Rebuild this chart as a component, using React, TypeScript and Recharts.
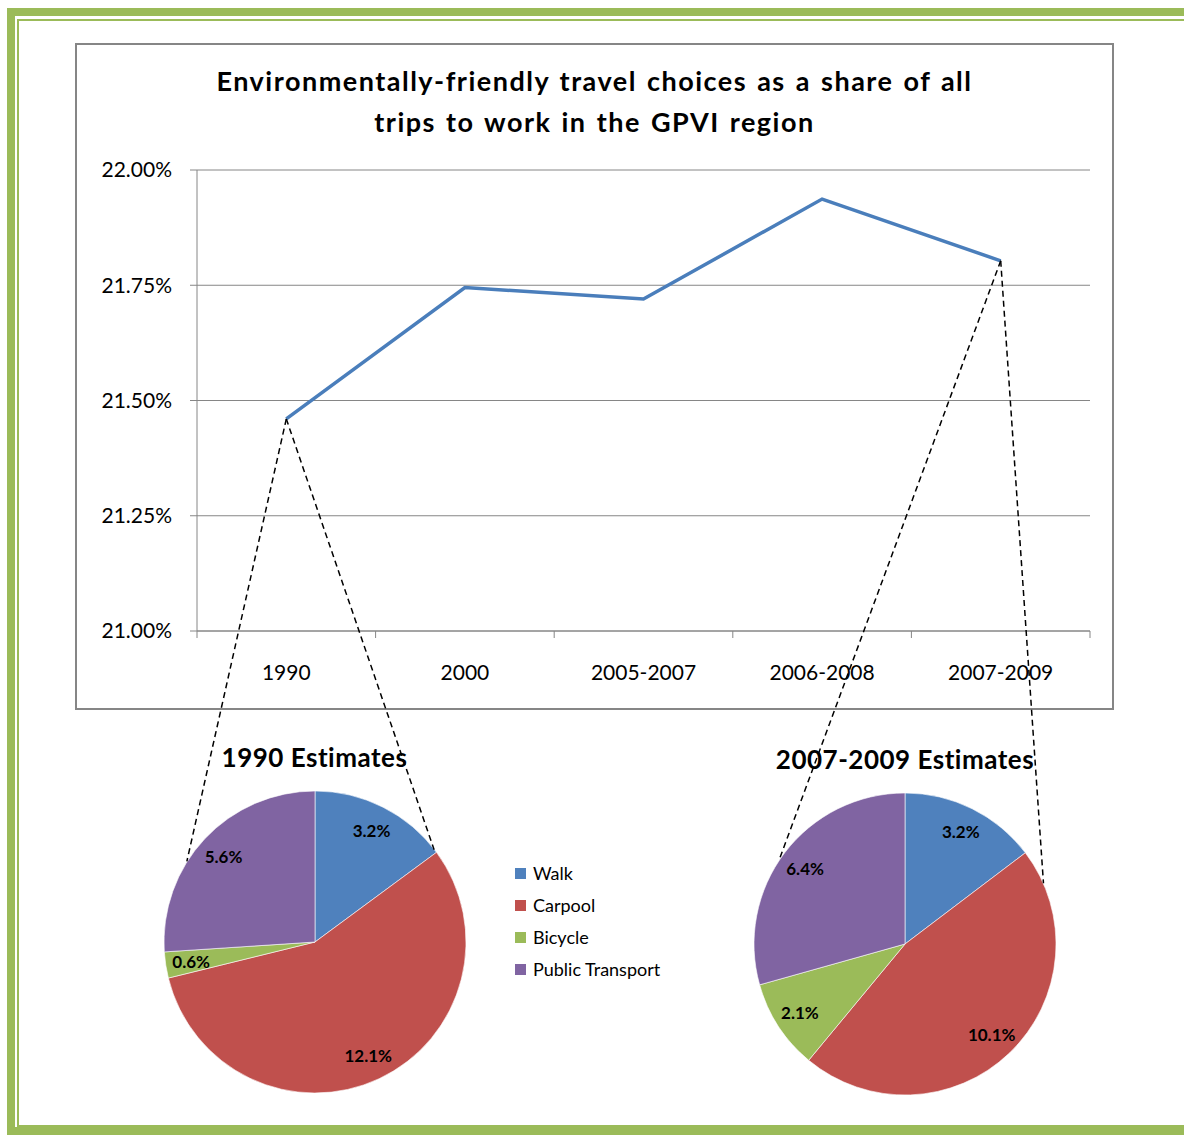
import { CartesianGrid, Cell, Line, LineChart, Pie, PieChart, XAxis, YAxis } from 'recharts'

const YEARS = ['1990', '2000', '2005-2007', '2006-2008', '2007-2009']
const ECO_SHARE = [21.46, 21.745, 21.72, 21.937, 21.803]
const Y_TICKS = [21, 21.25, 21.5, 21.75, 22]

const MODES = ['Walk', 'Carpool', 'Bicycle', 'Public Transport']
const MODE_COLORS = ['#4F81BD', '#C0504D', '#9BBB59', '#8064A2']
const SHARE_1990 = [3.2, 12.1, 0.6, 5.6]
const SHARE_2007_2009 = [3.2, 10.1, 2.1, 6.4]

const FONT = 'Lato, "Open Sans", sans-serif'
const GRAY = '#868686'

// line chart geometry (page px)
const BOX = { left: 75, top: 43, width: 1039, height: 667 }
const PLOT = { left: 197, top: 170, width: 893, height: 461 }
const BAND = PLOT.width / YEARS.length
const Y_MIN = 21
const Y_MAX = 22

// pies
const PIE_R = 151
const PIES = [
  { title: '1990 Estimates', values: SHARE_1990, cx: 314.5, cy: 942, yearIdx: 0, titleY: 757, links: [147.7, 37.6] },
  { title: '2007-2009 Estimates', values: SHARE_2007_2009, cx: 905, cy: 943.5, yearIdx: 4, titleY: 759, links: [146.5, 23.5] },
]

const lineData = YEARS.map((year, i) => ({ year, share: ECO_SHARE[i] }))

const pointX = (i: number) => PLOT.left + BAND / 2 + i * BAND
const pointY = (v: number) => PLOT.top + ((Y_MAX - v) / (Y_MAX - Y_MIN)) * PLOT.height

function XTick(props: any) {
  const { x, y, payload, index } = props
  const left = x - BAND / 2
  return (
    <g>
      <line x1={left} x2={left} y1={y} y2={y + 7} stroke={GRAY} />
      {index === YEARS.length - 1 && <line x1={x + BAND / 2} x2={x + BAND / 2} y1={y} y2={y + 7} stroke={GRAY} />}
      <text x={x} y={y + 49} textAnchor="middle" fontSize={21} fontFamily={FONT} fill="#000">
        {payload.value}
      </text>
    </g>
  )
}

const RADIAN = Math.PI / 180

function PieLabel(props: any) {
  const { cx, cy, midAngle, outerRadius, value } = props
  const r = outerRadius * 0.83
  const x = cx + r * Math.cos(-midAngle * RADIAN)
  const y = cy + r * Math.sin(-midAngle * RADIAN)
  return (
    <text x={x} y={y} textAnchor="middle" dominantBaseline="central" fontSize={17} fontWeight={700} fontFamily={FONT} fill="#000">
      {value.toFixed(1)}%
    </text>
  )
}

function EstimatePie({ pie }: { pie: (typeof PIES)[number] }) {
  const size = 330
  const data = MODES.map((name, i) => ({ name, value: pie.values[i] }))
  return (
    <div style={{ position: 'absolute', left: pie.cx - size / 2, top: pie.cy - size / 2 }}>
      <PieChart width={size} height={size} margin={{ top: 0, right: 0, bottom: 0, left: 0 }}>
        <Pie
          data={data}
          dataKey="value"
          cx="50%"
          cy="50%"
          outerRadius={PIE_R}
          startAngle={90}
          endAngle={-270}
          stroke="#ffffff"
          strokeWidth={0.6}
          label={PieLabel}
          labelLine={false}
          isAnimationActive={false}
        >
          {data.map((d, i) => (
            <Cell key={d.name} fill={MODE_COLORS[i]} />
          ))}
        </Pie>
      </PieChart>
    </div>
  )
}

export default function App() {
  return (
    <div style={{ position: 'absolute', left: 0, top: 0, width: 1184, height: 1135, overflow: 'hidden', background: '#fff', fontFamily: FONT }}>
      {/* green page frame */}
      <div style={{ position: 'absolute', left: 7, top: 8, width: 1300, height: 1127, border: '8px solid #9BBB59', boxSizing: 'border-box' }} />
      <div style={{ position: 'absolute', left: 17, top: 19, width: 1300, height: 1108, border: '2.5px solid #9BBB59', boxSizing: 'border-box' }} />

      {/* line chart box */}
      <div
        style={{
          position: 'absolute',
          left: BOX.left,
          top: BOX.top,
          width: BOX.width,
          height: BOX.height,
          border: `2px solid ${GRAY}`,
          boxSizing: 'border-box',
        }}
      />
      <div
        style={{
          position: 'absolute',
          left: BOX.left,
          top: 60,
          width: BOX.width,
          textAlign: 'center',
          fontWeight: 700,
          fontSize: 27,
          letterSpacing: 1.5,
          wordSpacing: 2,
          lineHeight: '41px',
          color: '#000',
        }}
      >
        Environmentally-friendly travel choices as a share of all
        <br />
        trips to work in the GPVI region
      </div>
      <div style={{ position: 'absolute', left: BOX.left, top: BOX.top }}>
        <LineChart
          width={BOX.width}
          height={BOX.height}
          data={lineData}
          margin={{ top: PLOT.top - BOX.top, right: BOX.left + BOX.width - PLOT.left - PLOT.width, bottom: 0, left: 0 }}
        >
          <CartesianGrid stroke={GRAY} vertical={false} />
          <XAxis
            dataKey="year"
            height={BOX.top + BOX.height - PLOT.top - PLOT.height}
            padding={{ left: BAND / 2, right: BAND / 2 }}
            axisLine={{ stroke: GRAY }}
            tickLine={false}
            tickSize={0}
            tickMargin={0}
            tick={XTick}
            interval={0}
          />
          <YAxis
            width={PLOT.left - BOX.left}
            domain={[Y_MIN, Y_MAX]}
            ticks={Y_TICKS}
            tickFormatter={(v: number) => `${v.toFixed(2)}%`}
            axisLine={{ stroke: GRAY }}
            tickLine={{ stroke: GRAY }}
            tickSize={7}
            tickMargin={18}
            tick={{ fontSize: 21, fill: '#000', fontFamily: FONT }}
          />
          <Line dataKey="share" stroke="#4A7EBB" strokeWidth={3.5} dot={false} type="linear" isAnimationActive={false} />
        </LineChart>
      </div>

      {/* pies */}
      {PIES.map((pie) => (
        <div key={pie.title}>
          <div
            style={{
              position: 'absolute',
              left: pie.cx - 200,
              width: 400,
              top: pie.titleY - 17,
              lineHeight: '34px',
              textAlign: 'center',
              fontWeight: 700,
              fontSize: 26,
              letterSpacing: 0.5,
              color: '#000',
            }}
          >
            {pie.title}
          </div>
          <EstimatePie pie={pie} />
        </div>
      ))}

      {/* legend */}
      <div style={{ position: 'absolute', left: 515, top: 857 }}>
        {MODES.map((m, i) => (
          <div key={m} style={{ display: 'flex', alignItems: 'center', height: 32, fontSize: 18, color: '#000' }}>
            <span style={{ width: 11, height: 11, background: MODE_COLORS[i], marginRight: 7 }} />
            {m}
          </div>
        ))}
      </div>

      {/* dashed connectors from line points to pies */}
      <svg width={1184} height={1135} style={{ position: 'absolute', left: 0, top: 0, pointerEvents: 'none' }}>
        {PIES.map((pie) =>
          pie.links.map((a) => (
            <line
              key={`${pie.title}-${a}`}
              x1={pointX(pie.yearIdx)}
              y1={pointY(ECO_SHARE[pie.yearIdx])}
              x2={pie.cx + PIE_R * Math.cos(a * RADIAN)}
              y2={pie.cy - PIE_R * Math.sin(a * RADIAN)}
              stroke="#000"
              strokeWidth={1.5}
              strokeDasharray="6 4"
            />
          )),
        )}
      </svg>
    </div>
  )
}
